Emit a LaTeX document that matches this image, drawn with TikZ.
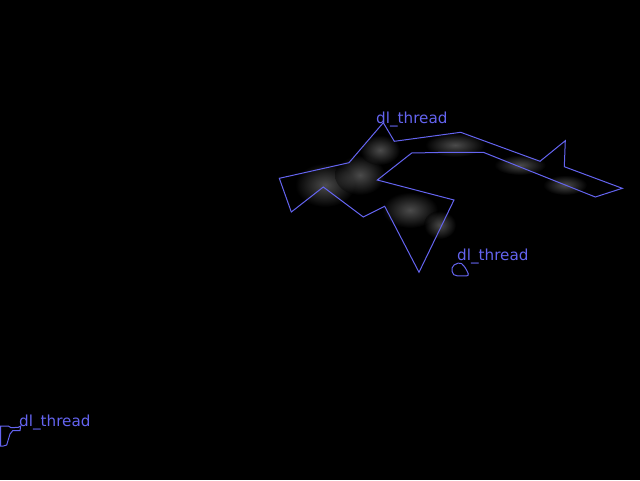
\documentclass[tikz,border=0pt]{standalone}
\usepackage{fontspec}
\setmainfont{DejaVu Sans}
\begin{document}
\begin{tikzpicture}[x=1pt,y=-1pt,
  seg/.style={draw=segblue,line width=1pt,line join=miter},
  lbl/.style={text=segblue,font=\fontsize{15.2}{16}\selectfont,inner sep=0pt,anchor=base west},
  blob/.style={inner color=gray!30,outer color=black,draw=none}]
\definecolor{segblue}{RGB}{100,100,240}
\fill[black] (0,0) rectangle (640,480);
\useasboundingbox (0,0) rectangle (640,480);
% faint background texture
\begin{scope}[opacity=0.35]
\shade[blob] (325,185) ellipse (30 and 22);
\shade[blob] (360,175) ellipse (25 and 20);
\shade[blob] (380,150) ellipse (20 and 15);
\shade[blob] (410,210) ellipse (28 and 18);
\shade[blob] (440,225) ellipse (16 and 14);
\shade[blob] (455,145) ellipse (30 and 12);
\shade[blob] (520,165) ellipse (26 and 10);
\shade[blob] (565,185) ellipse (22 and 10);
\end{scope}
% main polygon
\draw[seg] (383.3,122.7) -- (394.3,141.3) -- (460.7,132.3) -- (540,161.3) -- (565.3,140.7) -- (564.3,166.7) -- (622.3,188.3) -- (595.3,197) -- (483.3,152.3) -- (448.3,152.3) -- (411.7,153) -- (377.3,180) -- (454,200) -- (419,272.3) -- (384.7,206.3) -- (363.3,217) -- (323.3,187) -- (291.3,212) -- (279.3,178.3) -- (349,162.7) -- cycle;
\node[lbl] (l1) at (376,123) {dl\_thread};
% small polygon
\draw[seg,rounded corners=2pt] (460,262.3) -- (452.3,265.7) -- (452,273.3) -- (455.7,276) -- (469,275.7) -- (466.7,270) -- (463.3,265) -- cycle;
\node[lbl] (l2) at (457,260) {dl\_thread};
% bottom-left polygon
\draw[seg] (0.5,426) -- (8.3,426) -- (11,427.7) -- (18.3,427.3) -- (20.7,426) -- (20,430.7) -- (12.7,430.7) -- (10,434) -- (6.7,445) -- (3.3,446) -- (0.5,446) -- cycle;
\node[lbl] (l3) at (19,426) {dl\_thread};
\end{tikzpicture}
\end{document}
